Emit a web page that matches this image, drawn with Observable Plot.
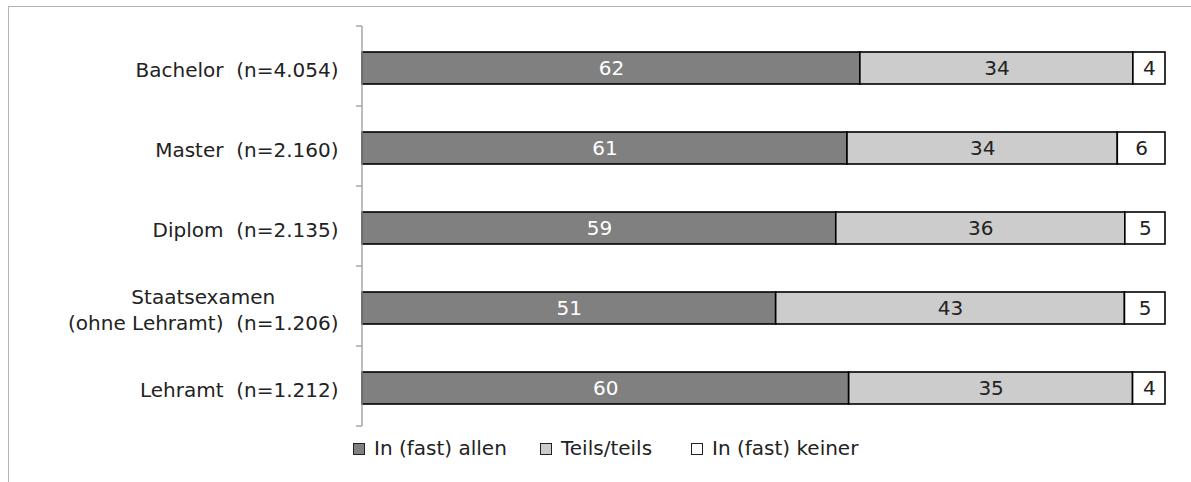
<!DOCTYPE html>
<html>
<head>
<meta charset="utf-8">
<script src="https://cdn.jsdelivr.net/npm/d3@7"></script>
<script src="https://cdn.jsdelivr.net/npm/@observablehq/plot@0.6"></script>
<style>
  html, body { margin: 0; padding: 0; background: #fff; }
  body { width: 1191px; height: 482px; position: relative; overflow: hidden; font-family: "DejaVu Sans", sans-serif; }
  #frame { position: absolute; left: 8px; top: 6px; width: 1200px; height: 500px; border-top: 1px solid #b4b4b4; border-left: 1px solid #b4b4b4; }
  #chart { position: absolute; left: 0; top: 0; }
  #chart svg text { white-space: pre; }
  #legend { position: absolute; top: 436px; left: 0; width: 1191px; height: 26px; font-size: 20px; color: #222; }
  .item { position: absolute; top: 0; display: flex; align-items: center; line-height: 24px; }
  .sw { width: 10px; height: 10px; border: 1px solid #222; margin-right: 9px; margin-top: 1px; }
</style>
</head>
<body>
<div id="frame"></div>
<div id="chart"></div>
<div id="legend"></div>
<script>
const categories = [
  "Bachelor  (n=4.054)",
  "Master  (n=2.160)",
  "Diplom  (n=2.135)",
  "Staatsexamen\n(ohne Lehramt)  (n=1.206)",
  "Lehramt  (n=1.212)"
];
const series = ["In (fast) allen", "Teils/teils", "In (fast) keiner"];
const allen  = [62, 61, 59, 51, 60];
const teils  = [34, 34, 36, 43, 35];
const keiner = [4, 6, 5, 5, 4];
const seriesColors = ["#808080", "#cccccc", "#ffffff"];

const values = [allen, teils, keiner];
const data = [];
categories.forEach((c, i) => series.forEach((s, j) => data.push({cat: c, series: s, value: values[j][i]})));
const colorOf = Object.fromEntries(series.map((s, j) => [s, seriesColors[j]]));

const W = 1191, H = 440, ML = 362, MR = 26, MT = 26, MB = 10;
const FONT = "'DejaVu Sans', sans-serif";
const plot = Plot.plot({
  width: W, height: H,
  marginLeft: ML, marginRight: MR, marginTop: MT, marginBottom: MB,
  style: {fontFamily: FONT, fontSize: "20px", color: "#222", background: "transparent"},
  x: {domain: [0, 1], axis: null},
  y: {domain: categories, paddingInner: 0.6, paddingOuter: 0.3, label: null},
  color: {type: "identity"},
  marks: [
    Plot.barX(data, Plot.stackX({x: "value", y: "cat", z: "series", offset: "normalize",
      fill: d => colorOf[d.series], stroke: "#000", strokeWidth: 1.6})),
    Plot.text(data, Plot.stackX({x: "value", y: "cat", z: "series", offset: "normalize",
      text: d => String(d.value), fill: d => d.series === series[0] ? "#ffffff" : "#222222",
      fontSize: 20, dy: 0})),
    Plot.axisY({tickSize: 0, tickPadding: 24, fontSize: 20, lineHeight: 1.3, fill: "#222"})
  ]
});
document.getElementById("chart").appendChild(plot);

// axis line and boundary ticks from the y scale
const ys = plot.scale("y");
const svg = d3.select(plot);
const r0 = ys.range[0], step = ys.step;
const g = svg.append("g").attr("stroke", "#999").attr("stroke-width", 1.3);
g.append("line").attr("x1", ML).attr("x2", ML).attr("y1", r0).attr("y2", r0 + step * categories.length);
for (let i = 0; i <= categories.length; i++) {
  const y = r0 + i * step;
  g.append("line").attr("x1", ML - 6).attr("x2", ML).attr("y1", y).attr("y2", y);
}

// center multi-line tick labels
svg.selectAll("text").each(function() {
  const tsp = this.querySelectorAll("tspan");
  if (tsp.length > 1) {
    let w = 0;
    tsp.forEach(t => { w = Math.max(w, t.getComputedTextLength()); });
    this.setAttribute("text-anchor", "middle");
    tsp.forEach(t => t.setAttribute("x", -w / 2));
  }
});

// legend
const leg = d3.select("#legend");
const legendLeft = [353, 540, 691];
series.forEach((s, j) => {
  const it = leg.append("div").attr("class", "item").style("left", legendLeft[j] + "px");
  it.append("div").attr("class", "sw").style("background", seriesColors[j]);
  it.append("span").text(s);
});
</script>
</body>
</html>
